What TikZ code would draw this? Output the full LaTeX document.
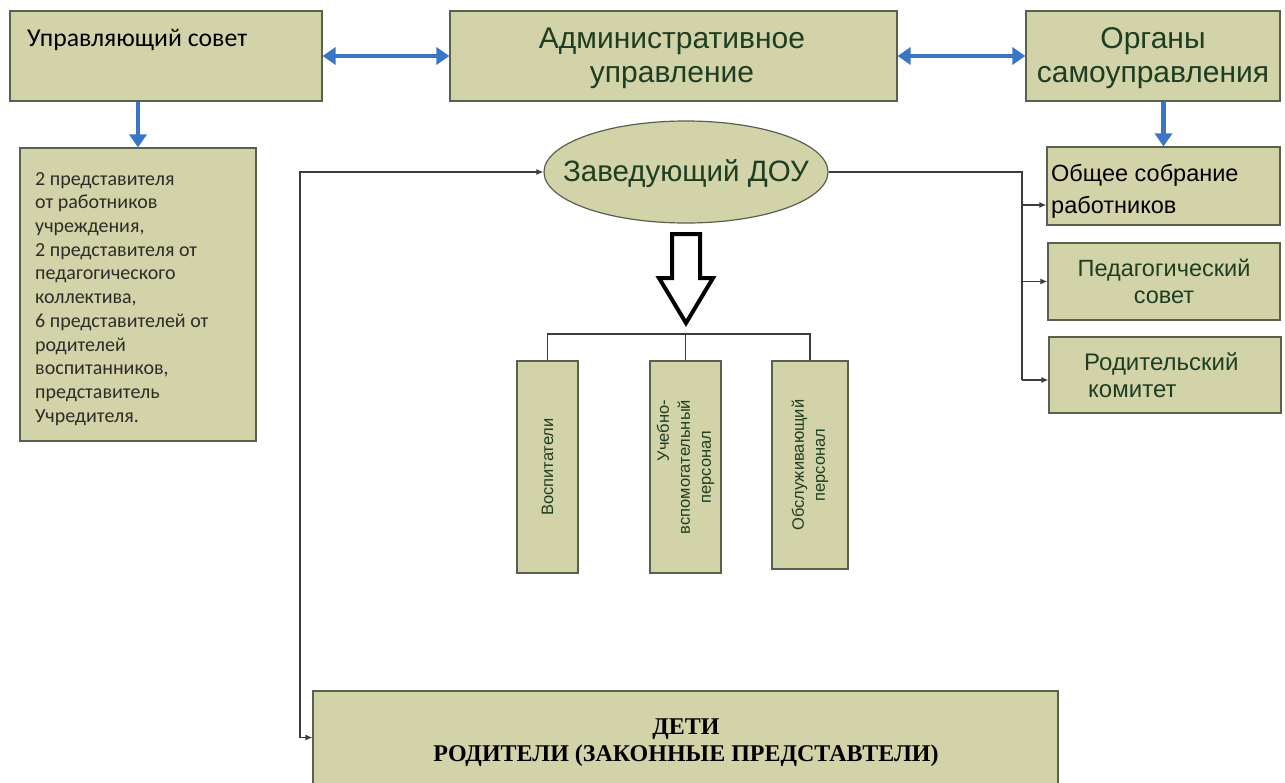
\documentclass[tikz,border=0pt]{standalone}
\usepackage{fontspec}
\setmainfont{Liberation Sans}
\newfontfamily\calib{Carlito}
\newfontfamily\tnr{Liberation Serif}
\usepackage{calc}
\usetikzlibrary{arrows.meta,shapes.geometric,calc}
\definecolor{boxfill}{RGB}{211,211,170}
\definecolor{boxline}{RGB}{90,96,78}
\definecolor{txtg}{RGB}{30,62,34}
\definecolor{bluec}{RGB}{58,118,200}
\definecolor{connc}{RGB}{60,60,60}
\tikzset{
  box/.style={rectangle, draw=boxline, fill=boxfill, line width=1.2pt, inner sep=0pt},
  bluearr/.style={draw=bluec, line width=4.5pt, -{Triangle[length=13pt,width=17pt]}},
  bluedbl/.style={draw=bluec, line width=4.5pt, {Triangle[length=13pt,width=17pt]}-{Triangle[length=13pt,width=17pt]}},
  conn/.style={draw=connc, line width=1.3pt},
  connarr/.style={conn, -{Latex[length=7pt,width=6pt]}},
  vtxt/.style={rotate=90, align=center, text=txtg, inner sep=0pt, font=\fontsize{16.5}{21}\selectfont},
  toptxt/.style={align=center, inner sep=0pt, text=txtg, font=\fontsize{30}{34}\selectfont}
}
\begin{document}
\begin{tikzpicture}[x=1pt,y=-1pt]
\useasboundingbox (0,0) rectangle (1285,782);
\fill[white] (0,0) rectangle (1285,782);

% top row
\node[box, minimum width=312pt, minimum height=90pt] (us) at (166,56) {};
\node[anchor=west, inner sep=0pt, font=\calib\fontsize{25.7}{30}\selectfont] (ust) at (27,40) {Управляющий совет};
\node[box, minimum width=447pt, minimum height=90pt] (adm) at (673.5,56) {};
\node[toptxt] (admt) at (672,58) {Административное\\управление};
\node[box, minimum width=254pt, minimum height=90pt] (org) at (1153,56) {};
\node[toptxt] (orgt) at (1153,58) {Органы\\самоуправления};

% left box
\node[box, minimum width=236pt, minimum height=293pt] (lbox) at (138,294.5) {};
\node[anchor=north west, align=left, inner sep=0pt, text={rgb,255:red,45;green,45;blue,40}, font=\calib\fontsize{20}{23.7}\selectfont] (lt) at (35,172) {2 представителя\\от работников\\учреждения,\\2 представителя от\\педагогического\\коллектива,\\6 представителей от\\родителей\\воспитанников,\\представитель\\Учредителя.};

% ellipse
\node[ellipse, draw=boxline, fill=boxfill, line width=1.2pt, minimum width=284pt, minimum height=102pt, inner sep=0pt] (zav) at (686,172) {};
\node[inner sep=0pt, text=txtg, font=\fontsize{29.5}{34}\selectfont] (zavt) at (686,174) {Заведующий ДОУ};

% right boxes
\node[box, minimum width=233pt, minimum height=78pt] (obs) at (1163.5,186) {};
\node[anchor=west, align=left, inner sep=0pt, font=\fontsize{23.5}{32}\selectfont] (obst) at (1051,191) {Общее собрание\\работников};
\node[box, minimum width=232pt, minimum height=77pt, align=center, text=txtg, font=\fontsize{23.5}{27}\selectfont] (ped) at (1164,281.5) {Педагогический\\совет};
\node[box, minimum width=232pt, minimum height=76pt] (rod) at (1165,375) {};
\node[anchor=west, align=left, inner sep=0pt, text=txtg, font=\fontsize{24}{27}\selectfont] (rodt) at (1084,375) {Родительский\\\hspace*{4pt}комитет};

% vertical boxes
\node[box, minimum width=61pt, minimum height=212pt] (v1) at (547.5,467) {};
\node[box, minimum width=71pt, minimum height=212pt] (v2) at (685.5,467) {};
\node[box, minimum width=76pt, minimum height=208pt] (v3) at (810,465) {};
\node[vtxt] (v1t) at (v1) {Воспитатели};
\node[vtxt] (v2t) at (v2) {\makebox[\widthof{вспомогательный}][r]{Учебно-}\\вспомогательный\\персонал};
\node[vtxt] (v3t) at (v3) {Обслуживающий\\персонал};

% bottom box
\node[box, minimum width=745pt, minimum height=93pt] (det) at (685.5,737.5) {};
\node[align=center, inner sep=0pt, font=\tnr\bfseries\fontsize{24}{27}\selectfont] (dett) at (686,743) {ДЕТИ\\РОДИТЕЛИ (ЗАКОННЫЕ ПРЕДСТАВТЕЛИ)};

% blue arrows
\draw[bluedbl] (us.east) -- (adm.west);
\draw[bluedbl] (adm.east) -- (org.west);
\draw[bluearr] (lbox.north |- us.south) -- (lbox.north);
\draw[bluearr] (obs.north |- org.south) -- (obs.north);

% hollow arrow
\draw[line width=4pt, line join=miter, miter limit=10] (672,234) -- (700,234) -- (700,278) -- (713,278) -- (686,323) -- (659,278) -- (672,278) -- cycle;

% bracket
\coordinate (br) at (686,334);
\draw[conn] (v1.north) -- (v1.north |- br) -- (v3.north |- br) -- (v3.north);
\draw[conn] (v2.north) -- (v2.north |- br);

% left connector
\coordinate (lc) at (300,172);
\draw[conn, {Latex[length=7pt,width=6pt]}-{Latex[length=7pt,width=6pt]}] (det.west) -- (det.west -| lc) -- (lc) -- (zav.west);

% right connector
\coordinate (rc) at (1022,172);
\coordinate (oa) at ($(obs.west)+(0,19)$);
\coordinate (ra) at ($(rod.west)+(0,5)$);
\draw[conn] (zav.east) -- (rc) -- (rc |- ra);
\draw[connarr] (oa -| rc) -- (oa);
\draw[connarr] (ped.west -| rc) -- (ped.west);
\draw[connarr] (ra -| rc) -- (ra);
\end{tikzpicture}
\end{document}
